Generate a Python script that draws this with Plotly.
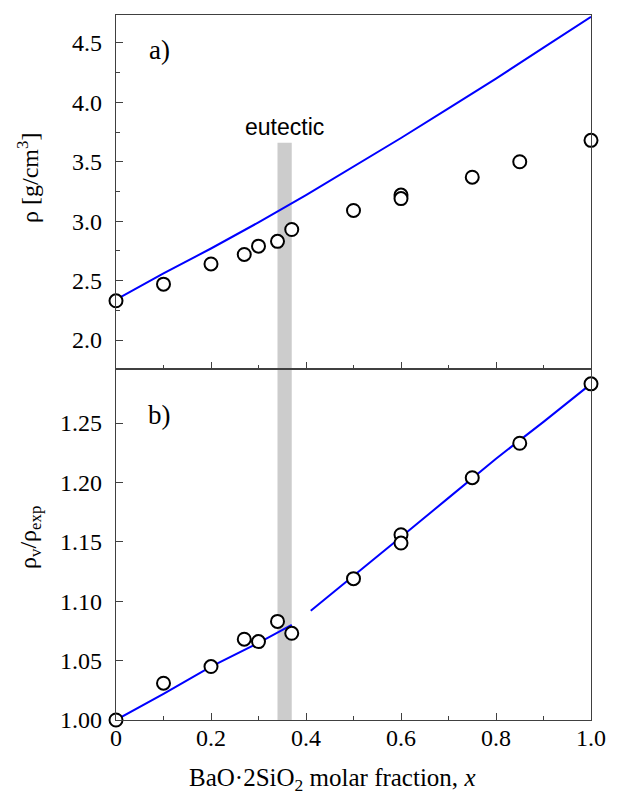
import plotly.graph_objects as go

# ---- data ----
x_exp = [0.0, 0.1, 0.2, 0.27, 0.30, 0.34, 0.37, 0.5, 0.6, 0.6, 0.75, 0.85, 1.0]
rho_exp = [2.33, 2.47, 2.64, 2.72, 2.79, 2.83, 2.93, 3.09, 3.22, 3.19, 3.37, 3.50, 3.68]

x_model = [0.0, 0.1, 0.2, 0.3, 0.4, 0.5, 0.6, 0.7, 0.8, 0.9, 1.0]
rho_model = [2.34, 2.56, 2.77, 2.99, 3.22, 3.46, 3.70, 3.95, 4.20, 4.46, 4.72]

ratio = [1.000, 1.031, 1.045, 1.068, 1.066, 1.083, 1.073, 1.119, 1.156, 1.149, 1.204, 1.233, 1.283]

x_fit1 = [0.0, 0.1, 0.2, 0.3, 0.37]
ratio_fit1 = [1.000, 1.022, 1.045, 1.065, 1.080]
x_fit2 = [0.41, 0.5, 0.6, 0.7, 0.8, 0.9, 1.0]
ratio_fit2 = [1.092, 1.121, 1.154, 1.187, 1.220, 1.251, 1.283]

eutectic_x = [0.34, 0.37]
eutectic_top = 3.66

x_ticks = [0, 0.2, 0.4, 0.6, 0.8, 1.0]
x_ticklabels = ["0", "0.2", "0.4", "0.6", "0.8", "1.0"]

range_top = [1.756, 4.735]
range_bot = [1.0, 1.2955]

SERIF = "Liberation Serif, Times New Roman, serif"
SANS = "Liberation Sans, Arial, sans-serif"
AX = "#404040"
BLUE = "#0000ff"

fig = go.Figure()

marker = dict(symbol="circle", size=13, color="white", line=dict(color="black", width=2))

fig.add_trace(go.Scatter(x=x_model, y=rho_model, mode="lines", line=dict(color=BLUE, width=2),
                         xaxis="x", yaxis="y", showlegend=False, cliponaxis=False))
fig.add_trace(go.Scatter(x=x_exp, y=rho_exp, mode="markers", marker=marker,
                         xaxis="x", yaxis="y", showlegend=False, cliponaxis=False))

fig.add_trace(go.Scatter(x=x_fit1, y=ratio_fit1, mode="lines", line=dict(color=BLUE, width=2),
                         xaxis="x2", yaxis="y2", showlegend=False, cliponaxis=False))
fig.add_trace(go.Scatter(x=x_fit2, y=ratio_fit2, mode="lines", line=dict(color=BLUE, width=2),
                         xaxis="x2", yaxis="y2", showlegend=False, cliponaxis=False))
fig.add_trace(go.Scatter(x=x_exp, y=ratio, mode="markers", marker=marker,
                         xaxis="x2", yaxis="y2", showlegend=False, cliponaxis=False))

# eutectic band
fig.add_shape(type="rect", xref="x", yref="y", x0=eutectic_x[0], x1=eutectic_x[1],
              y0=range_top[0], y1=eutectic_top, fillcolor="#cccccc", line=dict(width=0), layer="below")
fig.add_shape(type="rect", xref="x2", yref="y2 domain", x0=eutectic_x[0], x1=eutectic_x[1],
              y0=0, y1=1, fillcolor="#cccccc", line=dict(width=0), layer="below")

split = 351 / 705

common_axis = dict(showline=True, mirror=True, linecolor=AX, linewidth=1.3,
                   ticks="inside", tickcolor=AX, tickwidth=1.3, ticklen=7,
                   showgrid=False, zeroline=False,
                   tickfont=dict(family=SERIF, size=24, color="black"))

fig.update_layout(
    width=618, height=795,
    margin=dict(l=116, r=18, t=15, b=75),
    paper_bgcolor="white", plot_bgcolor="white",
    xaxis=dict(domain=[0, 1], anchor="y", range=[0, 1], tickvals=x_ticks, showticklabels=False,
               minor=dict(ticks="inside", dtick=0.1, ticklen=4, tickcolor=AX, tickwidth=1.3),
               **common_axis),
    yaxis=dict(domain=[split, 1], anchor="x", range=range_top, dtick=0.5, tick0=0, tickformat=".1f",
               ticklabelstandoff=8,
               minor=dict(ticks="inside", dtick=0.25, ticklen=4, tickcolor=AX, tickwidth=1.3),
               **common_axis),
    xaxis2=dict(domain=[0, 1], anchor="y2", range=[0, 1], tickvals=x_ticks, ticktext=x_ticklabels,
                ticklabelstandoff=-4,
                minor=dict(ticks="inside", dtick=0.1, ticklen=4, tickcolor=AX, tickwidth=1.3),
                **common_axis),
    yaxis2=dict(domain=[0, split], anchor="x2", range=range_bot, dtick=0.05, tick0=0, tickformat=".2f",
                ticklabelstandoff=8,
                **common_axis),
)

ann_font = dict(family=SERIF, size=24, color="black")
fig.add_annotation(text="ρ [g/cm<sup>3</sup>]", xref="paper", yref="y domain", x=-0.185, y=0.54,
                   textangle=-90, showarrow=False, font=ann_font, xanchor="center", yanchor="middle")
fig.add_annotation(text="ρ<sub>v</sub>/ρ<sub>exp</sub>", xref="paper", yref="y2 domain", x=-0.18, y=0.52,
                   textangle=-90, showarrow=False, font=ann_font, xanchor="center", yanchor="middle")
fig.add_annotation(text="BaO·2SiO<sub>2</sub> molar fraction, <i>x</i>", xref="paper", yref="paper",
                   x=0.455, y=-0.085, showarrow=False, font=dict(family=SERIF, size=25, color="black"),
                   xanchor="center", yanchor="middle")
fig.add_annotation(text="a)", xref="x domain", yref="y domain", x=0.091, y=0.9,
                   xanchor="center", yanchor="middle",
                   showarrow=False, font=dict(family=SERIF, size=27, color="black"))
fig.add_annotation(text="b)", xref="x2 domain", yref="y2 domain", x=0.091, y=0.87,
                   xanchor="center", yanchor="middle",
                   showarrow=False, font=dict(family=SERIF, size=27, color="black"))
fig.add_annotation(text="eutectic", xref="x", yref="y", x=sum(eutectic_x) / 2, y=eutectic_top,
                   yanchor="bottom", yshift=1, showarrow=False,
                   font=dict(family=SANS, size=23, color="black"))

fig.write_html("out.html")
